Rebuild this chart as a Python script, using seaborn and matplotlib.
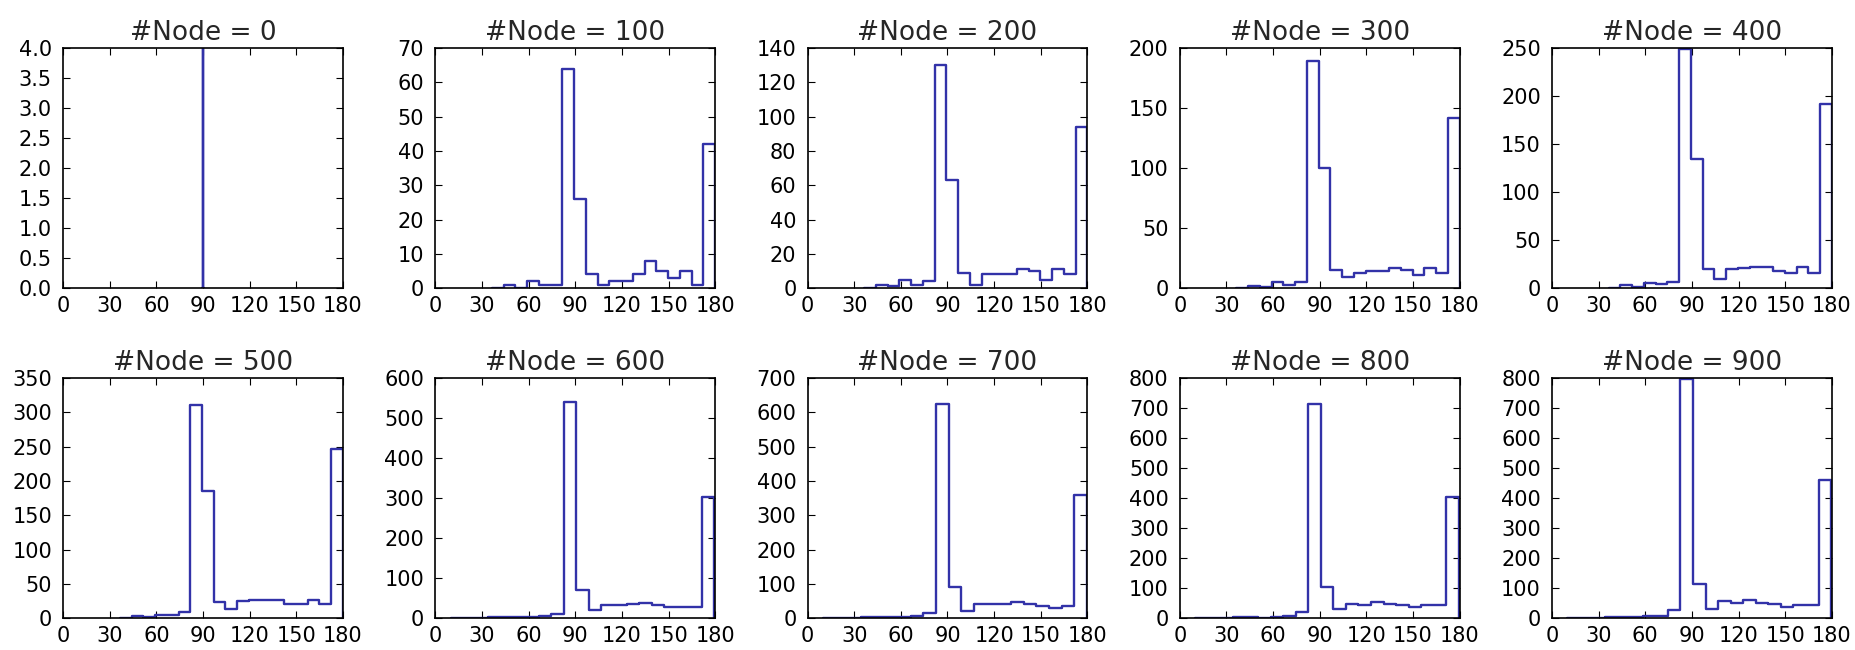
import numpy as np
import pandas as pd
import matplotlib
matplotlib.use("Agg")
import matplotlib.pyplot as plt
import seaborn as sns

# Number of nodes for each panel
node_counts = [0, 100, 200, 300, 400, 500, 600, 700, 800, 900]

# Bin edges (degrees)
edges_single = [89.75, 90.25]
edges_mid = np.linspace(44, 180, 19)      # 18 bins
edges_wide = np.linspace(18, 179.5, 21)   # 20 bins

# Histogram counts per panel
counts_0 = [4]
counts_100 = [1, 0, 2, 1, 1, 64, 26, 4, 1, 2, 2, 4, 8, 5, 3, 5, 1, 42]
counts_200 = [2, 1, 5, 2, 4, 130, 63, 9, 2, 8, 8, 8, 11, 10, 5, 11, 8, 94]
counts_300 = [2, 1, 5, 3, 5, 189, 100, 15, 9, 13, 14, 14, 17, 15, 11, 17, 13, 142]
counts_400 = [3, 1, 5, 4, 6, 249, 135, 20, 10, 20, 21, 22, 22, 18, 16, 22, 16, 192]
counts_500 = [3, 2, 5, 5, 9, 311, 186, 24, 14, 25, 27, 26, 26, 21, 20, 27, 20, 247]
counts_600 = [1, 1, 2, 2, 2, 3, 5, 10, 540, 70, 20, 33, 33, 35, 37, 33, 27, 28, 28, 303]
counts_700 = [1, 1, 3, 3, 2, 4, 6, 15, 625, 90, 22, 40, 40, 40, 46, 40, 35, 30, 35, 358]
counts_800 = [2, 2, 3, 4, 2, 5, 7, 20, 714, 104, 30, 48, 45, 55, 47, 44, 38, 43, 43, 405]
counts_900 = [2, 2, 3, 3, 4, 6, 8, 27, 797, 115, 32, 58, 52, 62, 50, 48, 38, 45, 45, 461]

panel_counts = [counts_0, counts_100, counts_200, counts_300, counts_400,
                counts_500, counts_600, counts_700, counts_800, counts_900]
panel_edges = [edges_single, edges_mid, edges_mid, edges_mid, edges_mid,
               edges_mid, edges_wide, edges_wide, edges_wide, edges_wide]

# y-axis range and tick spacing per panel
y_max = [4.0, 70, 140, 200, 250, 350, 600, 700, 800, 800]
y_step = [0.5, 10, 20, 50, 50, 50, 100, 100, 100, 100]

x_ticks = [0, 30, 60, 90, 120, 150, 180]

sns.set_theme(style="ticks")
plt.rcParams.update({
    "font.family": ["DejaVu Sans"],
    "axes.edgecolor": "black",
    "axes.linewidth": 1.2,
    "xtick.direction": "in",
    "ytick.direction": "in",
    "xtick.top": True,
    "ytick.right": True,
    "xtick.major.size": 5,
    "ytick.major.size": 5,
    "xtick.major.width": 0.8,
    "ytick.major.width": 0.8,
    "xtick.color": "black",
    "ytick.color": "black",
    "xtick.labelsize": 15,
    "ytick.labelsize": 15,
    "xtick.major.pad": 6,
    "ytick.major.pad": 8,
    "axes.titlesize": 19,
})

fig, axes = plt.subplots(2, 5, figsize=(18.56, 6.5), dpi=100)
fig.subplots_adjust(left=0.034, right=0.987, top=0.926, bottom=0.049,
                    wspace=0.33, hspace=0.375)

line_color = "#3232a8"

for ax, n, counts, edges, ymax, ystep in zip(axes.flat, node_counts, panel_counts,
                                             panel_edges, y_max, y_step):
    edges = np.asarray(edges, dtype=float)
    centers = (edges[:-1] + edges[1:]) / 2
    # empty bins on both sides so the outline closes down to zero
    w = edges[1] - edges[0]
    bins = [float(edges[0] - w)] + [float(e) for e in edges] + [float(edges[-1] + w)]
    df = pd.DataFrame({"angle": centers, "count": np.asarray(counts, dtype=float)})
    sns.histplot(data=df, x="angle", weights="count", bins=bins, element="step",
                 fill=False, color=line_color, linewidth=1.7, ax=ax)
    ax.set_xlim(0, 180)
    ax.set_xticks(x_ticks)
    ax.set_ylim(0, ymax)
    ax.set_yticks(np.arange(0, ymax + ystep / 2, ystep))
    if ystep < 1:
        ax.yaxis.set_major_formatter(matplotlib.ticker.FormatStrFormatter("%.1f"))
    ax.set_xlabel("")
    ax.set_ylabel("")
    ax.set_title(f"#Node = {n}", pad=6)
    for s in ax.spines.values():
        s.set_visible(True)
        s.set_color("black")

fig.savefig("out.png", dpi=100)
